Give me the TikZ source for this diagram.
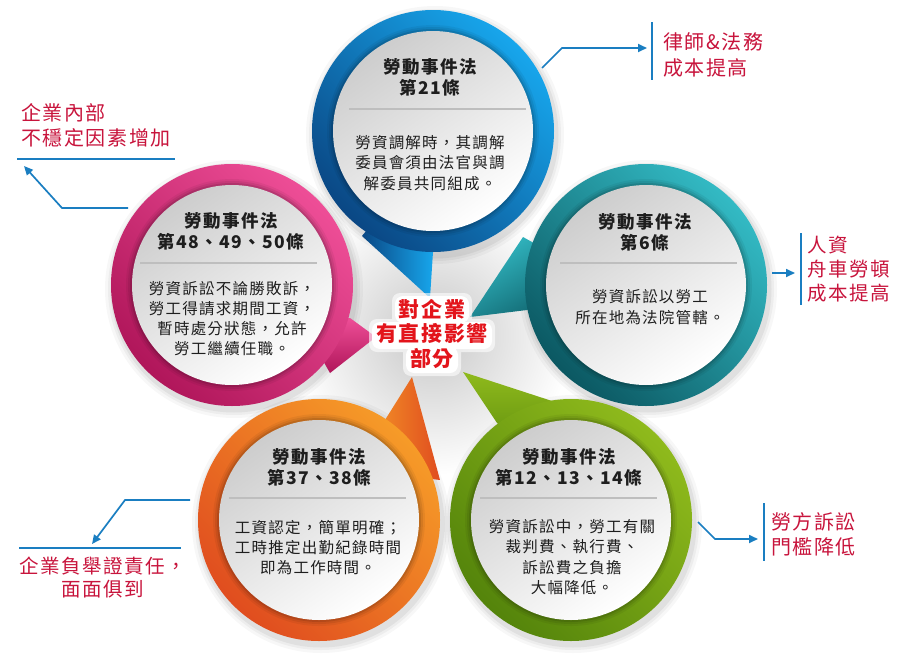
\documentclass[tikz,border=0pt]{standalone}
\usepackage{fontspec}
\newfontfamily\cjk[LetterSpace=8]{Noto Sans CJK TC}
\usetikzlibrary{arrows.meta}
\definecolor{bluelt}{HTML}{17A6EC}
\definecolor{bluedk}{HTML}{0A4784}
\definecolor{pinklt}{HTML}{EE4E97}
\definecolor{pinkdk}{HTML}{B0165A}
\definecolor{teallt}{HTML}{33BAC4}
\definecolor{tealdk}{HTML}{0B5862}
\definecolor{orglt}{HTML}{F69B28}
\definecolor{orgdk}{HTML}{E04D1F}
\definecolor{grnlt}{HTML}{8FBA1C}
\definecolor{grndk}{HTML}{54840B}
\definecolor{disctop}{HTML}{CDCDCD}
\definecolor{labred}{HTML}{C8143C}
\definecolor{ctrred}{HTML}{E3141B}
\definecolor{connblue}{HTML}{1A7EC1}
\definecolor{sepgray}{HTML}{BEBEBE}
\definecolor{txt}{HTML}{1E1E1E}
\newcommand\mydisc[5]{% #1 centre, #2 light, #3 dark, #4 tail path, #5 tail shading angle
  \shade[top color=#2, bottom color=#3, shading angle=#5] #4;
  \shade[top color=#2, bottom color=#3, shading angle=-45] #1 circle (121);
  \foreach \rr/\oo in {106/0.05,104/0.07,102/0.10}{\fill[black,opacity=\oo] #1 circle (\rr);}
  \shade[top color=disctop, bottom color=white, shading angle=35] #1 circle (100);
}
\begin{document}
\begin{tikzpicture}[x=1pt,y=-1pt,
  title/.style={font=\cjk\bfseries\fontsize{17.5}{21}\selectfont, align=center, text=txt, inner sep=0pt},
  body/.style={font=\cjk\fontsize{15.5}{20.2}\selectfont, align=center, text=txt, inner sep=0pt},
  redlabel/.style={font=\cjk\fontsize{20}{25.5}\selectfont, text=labred, align=left, inner sep=0pt},
  ctrtext/.style={font=\cjk\bfseries\fontsize{21}{24.5}\selectfont, align=center, inner sep=0pt},
  sep/.style={draw=sepgray, line width=1.8pt},
  conn/.style={draw=connblue, line width=1.7pt},
  arrowconn/.style={conn, -{Triangle[length=9pt,width=8pt]}},
  bar/.style={draw=connblue, line width=2.4pt}]
\useasboundingbox (0,0) rectangle (900,656);
\fill[white] (0,0) rectangle (900,656);
% central glow
\shade[inner color=black!22, outer color=white] (432,335) circle (140);
% soft shadows
\foreach \cx/\cy in {433/131,232/285,646/285,319/520,571/520}{
  \foreach \rr/\oo in {129/0.03,126/0.04,123.5/0.05}{\fill[black,opacity=\oo] (\cx+2,\cy+4) circle (\rr);}
}
% bubbles
\mydisc{(433,131)}{bluelt}{bluedk}{(430,298) -- (362,236) -- (433,150) -- (433,252) -- cycle}{-90}
\mydisc{(232,285)}{pinklt}{pinkdk}{(376,337) -- (350,318) -- (300,320) -- (330,373) -- cycle}{0}
\mydisc{(646,285)}{teallt}{tealdk}{(470,317) -- (523,237) -- (600,280) -- (527,310) -- cycle}{30}
\mydisc{(319,520)}{orglt}{orgdk}{(412,377) -- (385,420) -- (360,470) -- (440,480) -- cycle}{90}
\mydisc{(571,520)}{grnlt}{grndk}{(463,372) -- (497,423) -- (560,470) -- (552,401) -- cycle}{0}
% separators
\draw[sep] (349,109) -- (526,109);
\draw[sep] (140,263) -- (317,263);
\draw[sep] (560,263) -- (737,263);
\draw[sep] (229,498) -- (406,498);
\draw[sep] (480,498) -- (657,498);
% disc texts
\node[title] (t1) at (430,77.5) {勞動事件法\\第21條};
\node[body]  (b1) at (430,163) {勞資調解時，其調解\\委員會須由法官與調\\解委員共同組成。};
\node[title] (t2) at (231,231) {勞動事件法\\第48、49、50條};
\node[body]  (b2) at (232,318.5) {勞資訴訟不論勝敗訴，\\勞工得請求期間工資，\\暫時處分狀態，允許\\勞工繼續任職。};
\node[title] (t3) at (645,232) {勞動事件法\\第6條};
\node[body]  (b3) at (650,307) {勞資訴訟以勞工\\所在地為法院管轄。};
\node[title] (t4) at (319,467) {勞動事件法\\第37、38條};
\node[body]  (b4) at (318,547.5) {工資認定，簡單明確；\\工時推定出勤紀錄時間\\即為工作時間。};
\node[title] (t5) at (569,467) {勞動事件法\\第12、13、14條};
\node[body]  (b5) at (572,557) {勞資訴訟中，勞工有關\\裁判費、執行費、\\訴訟費之負擔\\大幅降低。};
% outer labels
\node[redlabel, anchor=west] (lab1) at (663,55) {律師\&法務\\成本提高};
\node[redlabel, anchor=west] (lab2) at (21,125.5) {企業內部\\不穩定因素增加};
\node[redlabel, anchor=west, font=\cjk\fontsize{19.5}{24}\selectfont] (lab3) at (807,269) {人資\\舟車勞頓\\成本提高};
\node[redlabel, align=center, font=\cjk\fontsize{19.5}{23.5}\selectfont] (lab4) at (103,577.5) {企業負舉證責任，\\面面俱到};
\node[redlabel, anchor=west] (lab5) at (771,534.5) {勞方訴訟\\門檻降低};
% bars and rules
\draw[bar] (652,22) -- (652,80);
\draw[bar] (801,233) -- (801,305);
\draw[bar] (764,503) -- (764,561);
\draw[conn, line width=2.2pt] (17,159) -- (175,159);
\draw[conn, line width=2.2pt] (19,548) -- (181,548);
% connectors
\coordinate (c1a) at (542,68); \coordinate (c1b) at (562,48); \coordinate (c1c) at (647,48);
\coordinate (c2a) at (128,208); \coordinate (c2b) at (62,208); \coordinate (c2c) at (24,166);
\coordinate (c3a) at (772,273); \coordinate (c3b) at (795,273);
\coordinate (c4a) at (190,500); \coordinate (c4b) at (125,500); \coordinate (c4c) at (92,544);
\coordinate (c5a) at (698,522); \coordinate (c5b) at (715,539); \coordinate (c5c) at (758,539);
\draw[arrowconn] (c1a) -- (c1b) -- (c1c);
\draw[arrowconn] (c2a) -- (c2b) -- (c2c);
\draw[arrowconn] (c3a) -- (c3b);
\draw[arrowconn] (c4a) -- (c4b) -- (c4c);
\draw[arrowconn] (c5a) -- (c5b) -- (c5c);
% centre text on a white halo
\begin{scope}[rounded corners=8pt]
  \fill[white, opacity=0.6] (392,293) rectangle (472,326) (369,319) rectangle (495,352) (403,344) rectangle (461,376);
  \fill[white] (395,296) rectangle (469,323) (372,322) rectangle (492,349) (406,347) rectangle (458,373);
\end{scope}
\node[ctrtext, text=ctrred] (ctr) at (432,334) {對企業\\有直接影響\\部分};
\end{tikzpicture}
\end{document}
